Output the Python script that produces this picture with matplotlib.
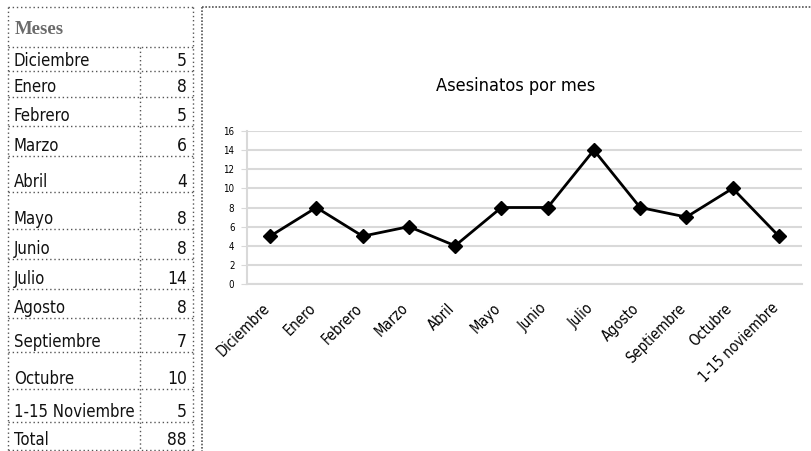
import matplotlib
matplotlib.use('Agg')
import matplotlib.pyplot as plt

# data
meses_tabla = ['Diciembre', 'Enero', 'Febrero', 'Marzo', 'Abril', 'Mayo', 'Junio',
               'Julio', 'Agosto', 'Septiembre', 'Octubre', '1-15 Noviembre']
asesinatos = [5, 8, 5, 6, 4, 8, 8, 14, 8, 7, 10, 5]
meses_graf = ['Diciembre', 'Enero', 'Febrero', 'Marzo', 'Abril', 'Mayo', 'Junio',
              'Julio', 'Agosto', 'Septiembre', 'Octubre', '1-15 noviembre']
y_ticks = [0, 2, 4, 6, 8, 10, 12, 14, 16]

plt.rcParams['font.family'] = ['DejaVu Sans']
plt.rcParams['font.stretch'] = 'condensed'

fig = plt.figure(figsize=(8.12, 4.51), dpi=100)

# background axes in pixel coords for the table and the dotted frames
bg = fig.add_axes([0, 0, 1, 1])
bg.set_xlim(0, 812)
bg.set_ylim(451, 0)
bg.axis('off')

dot = dict(color='#555555', lw=1, ls=(0, (1, 2)))
# row boundaries (pixels)
bounds = [7, 47, 71, 97, 126, 156, 192, 229, 259, 289, 318, 352, 389, 422, 450]
x0, xmid, x1 = 8, 140, 193
for b in bounds:
    bg.plot([x0, x1], [b, b], **dot)
bg.plot([x0, x0], [bounds[0], bounds[-1]], **dot)
bg.plot([x1, x1], [bounds[0], bounds[-1]], **dot)
bg.plot([xmid, xmid], [bounds[1], bounds[-1]], **dot)

bg.text(15, 34, 'Meses', family='Liberation Serif', weight='bold', color='#6b6b6b',
        fontsize=13.5, va='baseline')
filas = meses_tabla + ['Total']
valores = asesinatos + [sum(asesinatos)]
for i, (m, v) in enumerate(zip(filas, valores)):
    base = bounds[i + 2] - 5
    bg.text(14, base, m, fontsize=12, va='baseline', color='#111111')
    bg.text(187, base, str(v), fontsize=12.5, va='baseline', ha='right', color='#111111')

# chart frame
cdot = dict(color='#555555', lw=1.2, ls=(0, (1, 1)))
bg.plot([202, 202], [7, 451], **cdot)
bg.plot([202, 812], [7, 7], **cdot)

bg.text(516, 86, 'Asesinatos por mes', fontsize=13, ha='center', va='center')

# line chart
ax = fig.add_axes([247 / 812, (451 - 284) / 451, 555 / 812, 153 / 451])
x = range(len(asesinatos))
ax.plot(x, asesinatos, color='black', lw=2, marker='D', markersize=7, zorder=3)
ax.set_xlim(-0.5, 11.5)
ax.set_ylim(0, 16)
ax.set_yticks(y_ticks)
ax.set_yticklabels([str(t) for t in y_ticks], fontsize=7)
ax.set_xticks(list(x))
ax.set_xticklabels([])
# rotated month labels, placed a little left/below of each tick
for i, m in zip(x, meses_graf):
    ax.annotate(m, xy=(i, 0), xycoords=('data', 'axes fraction'), xytext=(-6, -12),
                textcoords='offset points', rotation=45, ha='right', va='top',
                rotation_mode='anchor', fontsize=10.5)
ax.grid(axis='y', color='#d9d9d9', lw=1.5)
ax.set_axisbelow(True)
for s in ['top', 'right']:
    ax.spines[s].set_visible(False)
ax.spines['left'].set_color('#d9d9d9')
ax.spines['left'].set_linewidth(1.5)
ax.spines['bottom'].set_color('#d9d9d9')
ax.spines['bottom'].set_linewidth(1.5)
ax.tick_params(axis='y', length=4, color='#d9d9d9', pad=5)
ax.tick_params(axis='x', length=0)
ax.patch.set_alpha(0)

fig.savefig('out.png', dpi=100)
